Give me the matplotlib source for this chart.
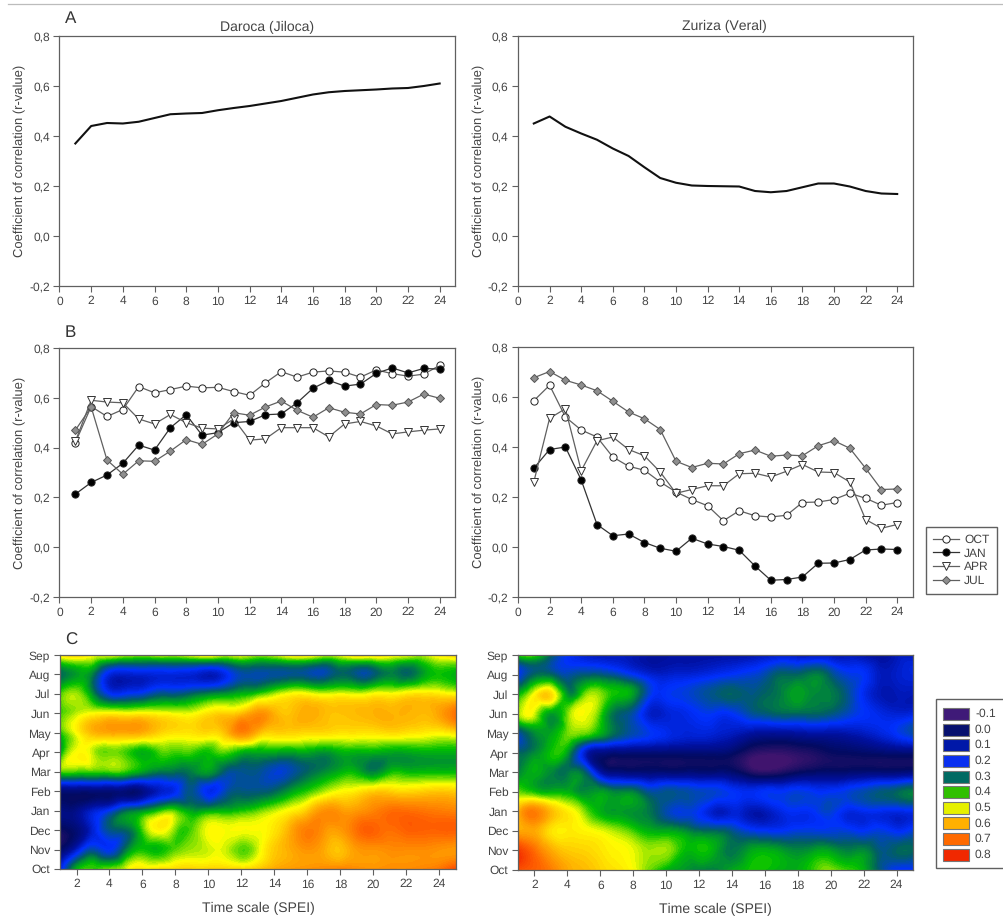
import numpy as np
import matplotlib
matplotlib.use("Agg")
import matplotlib.pyplot as plt
import matplotlib.tri as mtri
from matplotlib.colors import LinearSegmentedColormap
from matplotlib.patches import Rectangle
from matplotlib.lines import Line2D

plt.rcParams['font.family'] = ['Liberation Sans', 'DejaVu Sans']
plt.rcParams['text.hinting'] = 'none'
plt.rcParams['text.hinting_factor'] = 1
TXT = '#444444'
EDGE = '#606060'

scales = list(range(1, 25))
grid_scales = list(range(1, 26))
months = ['Oct', 'Nov', 'Dec', 'Jan', 'Feb', 'Mar', 'Apr', 'May', 'Jun', 'Jul', 'Aug', 'Sep']

daroca_all = [.37, .44, .452, .45, .457, .472, .487, .49, .492, .503, .512, .52, .53, .54, .553, .566, .575, .58, .583, .586, .59, .592, .60, .61]
zuriza_all = [.45, .478, .437, .41, .385, .35, .32, .275, .232, .213, .202, .2, .199, .198, .18, .175, .18, .195, .21, .21, .198, .18, .17, .168]

d_oct = [.42, .565, .525, .553, .645, .62, .633, .647, .64, .642, .625, .61, .66, .705, .683, .703, .708, .703, .683, .712, .697, .687, .695, .73]
d_jan = [.213, .26, .29, .337, .41, .39, .48, .532, .45, .46, .50, .505, .532, .535, .58, .638, .67, .647, .655, .698, .72, .70, .718, .715]
d_apr = [.425, .59, .583, .58, .515, .495, .533, .5, .478, .475, .515, .43, .435, .48, .48, .48, .443, .495, .505, .487, .455, .463, .47, .475]
d_jul = [.47, .563, .35, .293, .347, .345, .386, .432, .413, .455, .54, .53, .563, .587, .55, .522, .56, .542, .535, .573, .57, .583, .615, .598]

z_oct = [.585, .647, .52, .468, .44, .36, .323, .307, .26, .22, .19, .165, .105, .145, .125, .12, .127, .178, .18, .19, .215, .195, .167, .178]
z_jan = [.315, .39, .4, .268, .09, .045, .052, .018, -.005, -.017, .035, .012, .002, -.013, -.076, -.133, -.13, -.12, -.065, -.064, -.05, -.012, -.008, -.01]
z_apr = [.26, .515, .553, .305, .425, .44, .39, .365, .30, .215, .23, .245, .245, .293, .295, .28, .303, .33, .30, .298, .26, .11, .075, .09]
z_jul = [.677, .702, .667, .648, .625, .583, .54, .513, .47, .343, .318, .335, .332, .373, .388, .363, .368, .365, .405, .425, .395, .315, .23, .232]

heat_daroca = [
    [.15, .38, .42, .44, .48, .52, .53, .54, .55, .55, .55, .54, .56, .6, .62, .63, .64, .65, .64, .63, .64, .64, .65, .67, .73],
    [.0, .13, .25, .2, .32, .40, .39, .43, .46, .48, .48, .43, .48, .56, .6, .63, .6, .57, .62, .63, .64, .64, .64, .63, .62],
    [-.02, .03, .15, .27, .30, .42, .51, .44, .43, .5, .5, .5, .5, .53, .6, .66, .63, .62, .68, .7, .68, .7, .7, .7, .7],
    [.05, .06, .14, .2, .3, .34, .4, .42, .36, .37, .38, .4, .43, .47, .51, .56, .63, .62, .62, .65, .68, .68, .67, .66, .65],
    [.03, .03, .03, .03, .03, .05, .13, .18, .27, .18, .24, .28, .28, .3, .36, .41, .46, .5, .52, .55, .55, .54, .55, .56, .55],
    [.42, .42, .42, .42, .41, .36, .32, .31, .33, .36, .28, .27, .27, .23, .25, .3, .34, .38, .38, .33, .39, .39, .39, .39, .39],
    [.36, .5, .47, .44, .42, .38, .42, .42, .42, .4, .43, .38, .37, .37, .36, .37, .35, .38, .38, .38, .37, .37, .38, .38, .38],
    [.4, .5, .58, .6, .6, .59, .55, .53, .53, .54, .57, .65, .58, .55, .55, .54, .54, .53, .53, .53, .54, .53, .52, .51, .53],
    [.42, .47, .5, .51, .5, .51, .5, .49, .49, .53, .55, .57, .63, .59, .57, .6, .58, .57, .58, .59, .59, .59, .58, .61, .68],
    [.42, .46, .34, .2, .2, .22, .27, .27, .3, .33, .35, .38, .41, .46, .5, .5, .48, .49, .48, .5, .5, .52, .53, .52, .5],
    [.3, .36, .32, .16, .14, .15, .16, .16, .15, .12, .17, .25, .25, .26, .27, .26, .25, .3, .27, .28, .33, .3, .36, .4, .38],
    [.53, .55, .5, .5, .47, .45, .48, .47, .5, .53, .48, .5, .46, .48, .53, .53, .48, .5, .55, .54, .52, .5, .47, .52, .55],
]
heat_zuriza = [
    [.72, .7, .66, .6, .58, .55, .53, .5, .44, .38, .36, .33, .33, .37, .4, .4, .38, .38, .42, .45, .42, .38, .28, .2, .2],
    [.76, .68, .6, .56, .55, .53, .51, .49, .46, .46, .4, .4, .37, .32, .36, .38, .36, .34, .36, .36, .33, .34, .28, .3, .3],
    [.6, .6, .53, .52, .51, .49, .46, .42, .38, .37, .35, .31, .3, .27, .22, .2, .2, .22, .22, .22, .22, .2, .22, .19, .22],
    [.58, .66, .58, .52, .45, .38, .36, .35, .32, .25, .22, .2, .13, .15, .12, .12, .17, .19, .2, .23, .17, .18, .18, .17, .18],
    [.44, .4, .38, .38, .34, .36, .33, .33, .26, .27, .26, .24, .23, .2, .18, .2, .2, .22, .2, .2, .22, .25, .28, .3, .33],
    [.33, .38, .34, .32, .3, .1, .04, .03, .03, .03, .03, .03, .03, .02, -.04, -.07, -.05, -.01, .01, .02, .02, .03, .03, .03, .04],
    [.3, .34, .4, .36, .15, .05, .03, .03, .03, .03, .03, .03, .03, .01, -.05, -.08, -.08, -.06, -.04, -.01, .0, .01, .02, .03, .03],
    [.24, .34, .37, .44, .44, .38, .3, .25, .21, .18, .16, .16, .15, .13, .1, .08, .08, .09, .1, .1, .11, .13, .16, .2, .25],
    [.46, .48, .36, .44, .5, .42, .3, .25, .14, .15, .17, .2, .2, .2, .25, .28, .3, .3, .3, .28, .24, .2, .17, .15, .16],
    [.38, .5, .54, .35, .43, .45, .4, .36, .22, .2, .22, .25, .28, .3, .28, .3, .33, .37, .34, .33, .27, .18, .12, .12, .12],
    [.2, .3, .3, .25, .28, .28, .25, .2, .15, .14, .15, .16, .18, .2, .22, .25, .3, .3, .33, .28, .22, .2, .13, .14, .16],
    [.42, .43, .3, .2, .15, .12, .13, .12, .1, .1, .1, .1, .1, .1, .1, .12, .14, .12, .12, .12, .12, .1, .08, .12, .12],
]

legend_values = ['-0.1', '0.0', '0.1', '0.2', '0.3', '0.4', '0.5', '0.6', '0.7', '0.8']
legend_colors = ['#3f1a78', '#06106e', '#0018a8', '#0a30f0', '#006a62', '#30c000', '#e6f000', '#ffb000', '#ff6a00', '#f02800']
legend_nums = [-0.1, 0.0, 0.1, 0.2, 0.3, 0.4, 0.5, 0.6, 0.7, 0.8]
field_colors = ['#40146e', '#020a60', '#0010a0', '#0030ff', '#006060', '#00c000', '#ffff00', '#ffaa00', '#ff6000', '#f02000']

W, H = 1004, 917
fig = plt.figure(figsize=(W / 100, H / 100), dpi=100)

def axpx(l, t, r, b):
    return fig.add_axes([l / W, 1 - b / H, (r - l) / W, (b - t) / H])

def style(ax):
    for s in ax.spines.values():
        s.set_color(EDGE)
        s.set_linewidth(0.9)
    ax.tick_params(labelcolor=TXT, labelsize=8.7, length=4, width=0.8, color=EDGE, pad=3)

def corr_axes(ax):
    ax.set_xlim(0, 25)
    ax.set_ylim(-0.2, 0.8)
    ax.set_xticks(range(0, 25, 2))
    ax.set_yticks([-0.2, 0, 0.2, 0.4, 0.6, 0.8])
    ax.set_yticklabels(['-0,2', '0,0', '0,2', '0,4', '0,6', '0,8'])
    style(ax)
    ax.set_ylabel('Coefficient of correlation (r-value)', fontsize=9.3, color=TXT, labelpad=2)

# thin rule at the top of the page
fig.add_artist(Line2D([8 / W, 1], [1 - 3.5 / H, 1 - 3.5 / H], color='#bcbcbc', lw=0.9))

a1 = axpx(59.5, 36, 455.5, 286)
a2 = axpx(518, 36, 913, 286)
for ax, y in [(a1, daroca_all), (a2, zuriza_all)]:
    ax.plot(scales, y, color='#111111', lw=1.5)
    corr_axes(ax)
fig.text(267 / W, 1 - 27.5 / H, 'Daroca (Jiloca)', fontsize=9.9, color=TXT, ha='center', va='center')
fig.text(724.5 / W, 1 - 26.5 / H, 'Zuriza (Veral)', fontsize=9.9, color=TXT, ha='center', va='center')

b1 = axpx(59.5, 348, 455.5, 597)
b2 = axpx(518, 347, 913, 597)
mk = dict(ms=5.2, mew=0.7, mec='#222222', lw=0.9)
for ax, o, j, ap, ju in [(b1, d_oct, d_jan, d_apr, d_jul), (b2, z_oct, z_jan, z_apr, z_jul)]:
    ax.plot(scales, o, marker='o', mfc='white', color='#606060', label='OCT', **mk)
    ax.plot(scales, j, marker='o', mfc='black', color='#333333', label='JAN', **mk)
    ax.plot(scales, ap, marker='v', mfc='white', color='#606060', label='APR',
            ms=5.6, mew=0.7, mec='#333333', lw=0.9)
    ax.plot(scales, ju, marker='D', mfc='#8f8f8f', color='#606060', label='JUL',
            ms=4.5, mew=0.7, mec='#555555', lw=0.9)
    corr_axes(ax)

h, l = b2.get_legend_handles_labels()
fig.legend(h, l, loc='upper left', bbox_to_anchor=(926 / W, 1 - 527 / H), frameon=True,
           fancybox=False, edgecolor=EDGE, framealpha=1, fontsize=8.8, labelcolor=TXT,
           borderpad=0.6, labelspacing=0.2, handlelength=2.1, handletextpad=0.42, borderaxespad=0)

norm_v = [(v + 0.1) / 0.9 for v in legend_nums]
cmap = LinearSegmentedColormap.from_list('spei', list(zip(norm_v, field_colors)), N=512)
levels = np.linspace(-0.1, 0.8, 91)

c1 = axpx(60, 655, 456, 869)
c2 = axpx(518, 655, 913, 870)
for ax, z in [(c1, heat_daroca), (c2, heat_zuriza)]:
    X, Y = np.meshgrid(grid_scales, np.arange(len(months)))
    tri = mtri.Triangulation(X.ravel().astype(float), Y.ravel().astype(float))
    rtri, rz = mtri.UniformTriRefiner(tri).refine_field(np.array(z).ravel(), subdiv=3)
    ax.tricontourf(rtri, rz, levels=levels, cmap=cmap, vmin=-0.1, vmax=0.8,
                   extend='both', antialiased=False)
    ax.set_xlim(1, 25)
    ax.set_ylim(0, 11)
    ax.set_xticks(range(2, 25, 2))
    ax.set_yticks(range(len(months)))
    ax.set_yticklabels(months)
    ax.set_xlabel('Time scale (SPEI)', fontsize=9.9, color=TXT, labelpad=9)
    style(ax)

for s, x, y in [('A', 65, 19), ('B', 65, 333), ('C', 65, 640)]:
    fig.text(x / W, 1 - y / H, s, fontsize=12, color='#333333', va='center')

# colour key
fig.add_artist(Rectangle((936 / W, 1 - 868 / H), 70 / W, 169 / H, transform=fig.transFigure,
                         fc='white', ec=EDGE, lw=1.0))
for i, (lab, col) in enumerate(zip(legend_values, legend_colors)):
    yc = 714 + i * 15.63
    fig.add_artist(Rectangle((943 / W, 1 - (yc + 6) / H), 26 / W, 12 / H, transform=fig.transFigure,
                             fc=col, ec='#777777', lw=0.8))
    fig.text(975 / W, 1 - yc / H, lab, fontsize=8.8, color=TXT, va='center')

fig.savefig('out.png', dpi=100)
